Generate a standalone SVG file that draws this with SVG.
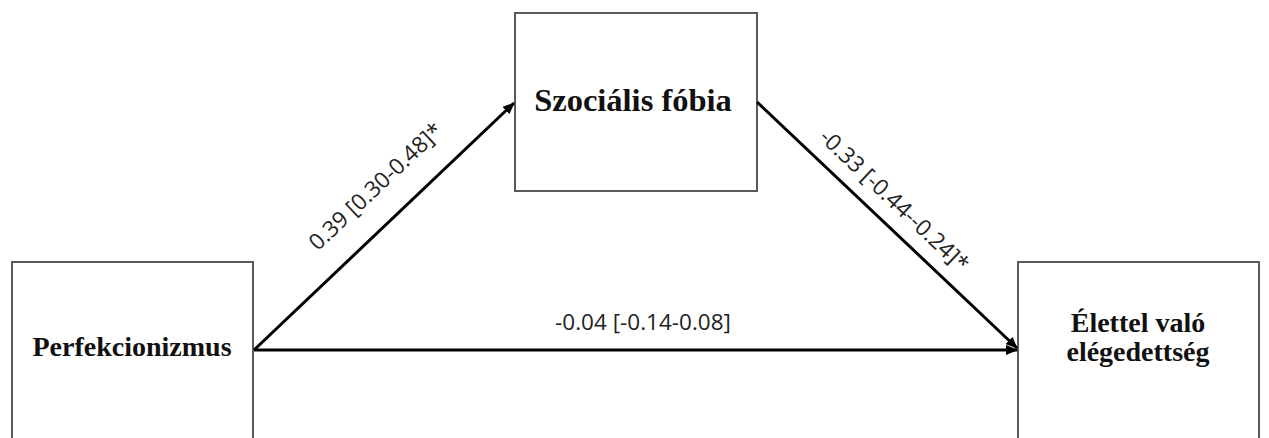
<svg xmlns="http://www.w3.org/2000/svg" width="1269" height="438" viewBox="0 0 1269 438">
<style>
.box{fill:#fff;stroke:#5a5a5a;stroke-width:2}
.nt{font-family:"Liberation Serif","Times New Roman",serif;font-weight:bold;font-size:28px;fill:#111;text-anchor:middle}
.edge{stroke:#000;stroke-width:3;fill:none}
.lbl{font-family:"Open Sans","Liberation Sans",sans-serif;font-size:22.5px;fill:#222;text-anchor:middle}
</style>
<defs>
<marker id="arr" markerUnits="userSpaceOnUse" markerWidth="12" markerHeight="10" refX="11" refY="5" orient="auto">
<path d="M0,0 L12,5 L0,10 z" fill="#000"/>
</marker>
</defs>
<rect width="1269" height="438" fill="#fff"/>
<g id="node-perfekcionizmus">
<rect class="box" x="12" y="262" width="241" height="200"/>
<text class="nt" x="132" y="356">Perfekcionizmus</text>
</g>
<g id="node-szocialis-fobia">
<rect class="box" x="515" y="13" width="242" height="178"/>
<text class="nt" x="633" y="111" style="font-size:32.5px">Szociális fóbia</text>
</g>
<g id="node-elettel">
<rect class="box" x="1018" y="262" width="241" height="200"/>
<text class="nt" x="1138" y="332">Élettel való</text>
<text class="nt" x="1138" y="361">elégedettség</text>
</g>
<g id="connectors">
<line class="edge" x1="254" y1="350" x2="514" y2="103" marker-end="url(#arr)"/>
<line class="edge" x1="757" y1="102" x2="1017" y2="348" marker-end="url(#arr)"/>
<line class="edge" x1="254" y1="350" x2="1017" y2="350" marker-end="url(#arr)"/>
<text class="lbl" transform="translate(381,192) rotate(-43.3)">0.39 [0.30-0.48]*</text>
<text class="lbl" transform="translate(889,206) rotate(43.4)">-0.33 [-0.44--0.24]*</text>
<text class="lbl" x="643" y="330">-0.04 [-0.14-0.08]</text>
</g>
</svg>
